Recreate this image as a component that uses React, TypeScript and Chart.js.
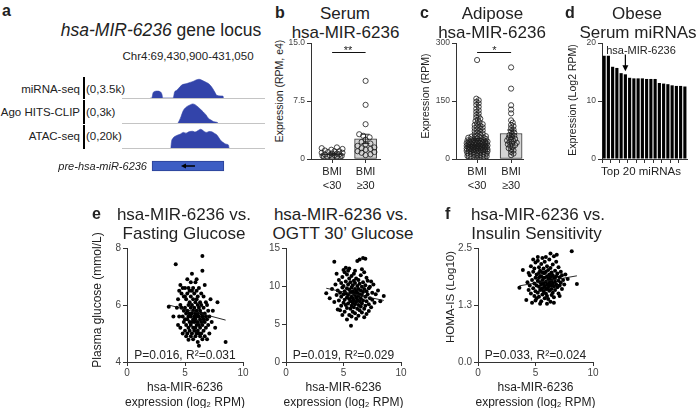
import React, { useEffect, useRef } from 'react';
import { Chart, registerables } from 'chart.js';

Chart.register(...registerables);

const FONT = '"Liberation Sans", Arial, Helvetica, sans-serif';
const INK = '#222';
const AXIS = '#333';
const TICK = '#444';
const PEAK = '#3344aa';
const GENE = '#3d5ec4';

// ---------------- Panel a: genome tracks (bp offset from 69,430,900) ----------------
const TRACK_MIN = 4;
const TRACK_MAX = 150;
const trackLabels = ['miRNA-seq', 'Ago HITS-CLIP', 'ATAC-seq'];
const trackRanges = ['(0,3.5k)', '(0,3k)', '(0,20k)'];
const trackMax = [3500, 3000, 20000];
const mirnaPos = [33, 34.4, 35.7, 37.5, 40, 43, 44.8, 45.6, 56.2, 57.7, 59.2, 61.2, 65, 70.1, 73.5, 76.5, 79.6, 82.7, 85.7, 88.8, 91.8, 93.9, 96.9, 99, 100.7, 104, 107.1, 107.7];
const mirnaVal = [0, 0, 850, 1100, 1150, 1050, 600, 0, 0, 1000, 1200, 1500, 2150, 2400, 2600, 2750, 3000, 3120, 2950, 2700, 2450, 2150, 1500, 900, 450, 350, 320, 0];
const agoPos = [61.2, 62.8, 64.3, 66.6, 69.4, 71.7, 74, 76.2, 78.6, 81.9, 84.7, 87, 89.8, 92.1, 94.9, 97.2, 100.7, 102];
const agoVal = [0, 400, 900, 1700, 2150, 2350, 2500, 2600, 2500, 2150, 1800, 1500, 1100, 650, 400, 200, 100, 0];
const atacPos = [53.9, 54.6, 55.8, 59.9, 63.3, 66.6, 69.4, 72.4, 76.2, 78.6, 81.6, 84.2, 85.7, 87.8, 90.5, 92.9, 95.6, 98, 100.7, 103.1, 105.1, 107.4, 110.2, 112.6, 113.3];
const atacVal = [0, 6000, 8600, 11400, 12500, 14200, 13500, 14800, 15200, 14500, 15800, 17000, 16500, 15000, 14200, 15000, 14800, 13500, 12000, 9000, 6500, 5000, 3500, 2800, 0];
const geneSpan = [34.7, 108];

// ---------------- Panel b: serum ----------------
const bmiLabels = [['BMI', '<30'], ['BMI', '≥30']];
const serumLow = [1.5, 1.4, 1.3, 1.2, 1.1, 1.0, 1.0, 0.9, 0.8, 0.8, 0.7, 0.7, 0.6, 0.6, 0.5, 0.5, 0.4, 0.4, 0.3, 0.3, 0.2];
const serumHigh = [10.1, 7.0, 4.5, 3.2, 3.0, 2.8, 2.5, 2.2, 2.0, 1.9, 1.7, 1.5, 1.4, 1.3, 1.2, 1.0, 0.9, 0.8, 0.6, 0.5];
const serumMean = [0.65, 2.6];
const serumSem = [0.09, 0.6];
const serumTicks = [0, 7.5, 15];
const serumTickLabels = ['0', '7.5', '15.0'];
const serumSigY = 13.9;

// ---------------- Panel c: adipose ----------------
const adiposeLow = [
  256, 156, 152, 148, 144, 140, 135, 130, 126, 122, 118, 114, 110, 107, 104, 101, 98, 95, 92, 90,
  88, 86, 84, 82, 80, 78, 76, 74, 72, 70, 68, 66, 64, 62, 60, 59, 58, 57, 56, 55, 54, 53, 52, 51, 50, 49, 48, 47, 46, 45,
  44, 44, 43, 43, 42, 42, 41, 41, 40, 40, 39, 39, 38, 38, 37, 37, 36, 36, 35, 35, 34, 34, 33, 33, 32, 32, 31, 31, 30, 30,
  29, 29, 28, 28, 27, 27, 26, 26, 25, 25, 24, 24, 23, 23, 22, 22, 21, 21, 20, 20,
  19, 18, 17, 16, 15, 14, 13, 12, 11, 10, 9, 8, 7, 6, 5, 4, 3, 2,
];
const adiposeHigh = [237, 182, 139, 128, 118, 100, 94, 88, 85, 80, 76, 72, 68, 65, 62, 60, 57, 55, 52, 50, 48, 46, 44, 42, 40, 38, 36, 34, 31, 28, 25, 22, 18, 14, 10];
const adiposeMean = [50, 66];
const adiposeSem = [3, 9];
const adiposeTicks = [0, 150, 300];
const adiposeTickLabels = ['0', '150', '300'];
const adiposeSigY = 277;

// ---------------- Panel d: top 20 serum miRNAs ----------------
const topMirnaNames = Array.from({ length: 20 }, (_, i) => `miR ${i + 1}`);
const topMirnaVals = [17.8, 17.8, 15.9, 15.7, 14.8, 14.6, 14.0, 13.9, 13.9, 13.9, 13.8, 13.8, 13.8, 13.1, 13.0, 12.9, 12.7, 12.6, 12.6, 12.5];
const topTicks = [0, 10, 20];
const arrowIndex = 5;
const arrowFrom = 18;

// ---------------- Panels e/f: scatter ----------------
const xTicks = [0, 5, 10];
const fastingTicks = [4, 6, 8];
const ogttTicks = [0, 5, 10, 15];
const homaTicks = [0, 1.25, 2.5];
const homaTickLabels = ['0.0', '1.3', '2.5'];

const fastingPts = [
  [3.6, 5.94], [4.2, 7.43], [4.3, 5.9], [4.4, 6.2], [4.5, 5.6], [4.5, 6.5], [4.6, 5.2], [4.6, 6.0], [4.7, 5.9], [4.7, 6.4],
  [4.8, 5.0], [4.8, 5.6], [4.8, 6.6], [4.9, 5.4], [4.9, 5.8], [4.9, 6.3], [5.0, 5.1], [5.0, 5.5], [5.0, 5.9], [5.0, 6.6],
  [5.1, 4.9], [5.1, 5.3], [5.1, 5.7], [5.1, 6.2], [5.2, 5.0], [5.2, 5.5], [5.2, 5.8], [5.2, 6.4], [5.2, 6.9], [5.3, 4.78],
  [5.3, 5.2], [5.3, 5.6], [5.3, 6.0], [5.3, 6.6], [5.4, 5.1], [5.4, 5.4], [5.4, 5.7], [5.4, 6.1], [5.4, 6.5], [5.5, 4.9],
  [5.5, 5.3], [5.5, 5.6], [5.5, 5.9], [5.5, 6.3], [5.5, 6.8], [5.6, 5.0], [5.6, 5.4], [5.6, 5.7], [5.6, 6.0], [5.6, 7.1],
  [5.7, 4.8], [5.7, 5.2], [5.7, 5.5], [5.7, 5.8], [5.7, 6.2], [5.7, 6.6], [5.8, 5.1], [5.8, 5.4], [5.8, 5.6], [5.8, 5.9],
  [5.8, 6.4], [5.9, 4.9], [5.9, 5.2], [5.9, 5.5], [5.9, 5.7], [5.9, 6.1], [5.9, 6.8], [6.0, 5.0], [6.0, 5.3], [6.0, 5.6],
  [6.0, 5.8], [6.0, 6.2], [6.0, 6.5], [6.1, 4.7], [6.1, 5.1], [6.1, 5.4], [6.1, 5.7], [6.1, 6.0], [6.1, 6.3], [6.2, 4.57],
  [6.2, 5.0], [6.2, 5.3], [6.2, 5.6], [6.2, 5.9], [6.2, 6.6], [6.3, 4.9], [6.3, 5.2], [6.3, 5.5], [6.3, 5.8], [6.3, 6.1],
  [6.4, 5.0], [6.4, 5.4], [6.4, 5.7], [6.4, 6.0], [6.4, 6.4], [6.5, 4.8], [6.5, 5.3], [6.5, 5.6], [6.5, 7.2], [6.5, 7.72],
  [6.6, 5.1], [6.6, 5.5], [6.6, 5.9], [6.6, 6.3], [6.7, 4.9], [6.7, 5.4], [6.7, 5.7], [6.7, 6.7], [6.8, 5.2], [6.8, 5.6],
  [6.8, 6.1], [6.9, 4.8], [6.9, 5.5], [6.9, 6.0], [7.0, 5.3], [7.0, 5.8], [7.1, 5.0], [7.1, 5.6], [7.2, 6.2], [7.3, 5.4],
  [7.4, 5.8], [7.6, 5.2], [7.8, 6.1], [8.5, 4.7], [4.0, 5.6], [4.4, 5.3], [4.6, 6.7], [5.0, 6.3], [5.6, 6.5], [6.0, 6.9],
];
const fastingFitX = [3.6, 8.5];
const fastingFitY = [6.0, 5.47];

const ogttPts = [
  [3.5, 9.05], [3.8, 8.4], [4.0, 9.6], [4.2, 13.2], [4.2, 7.9], [4.3, 10.2], [4.4, 8.8], [4.5, 6.9], [4.5, 9.4], [4.6, 10.8],
  [4.6, 8.1], [4.7, 9.1], [4.7, 6.8], [4.8, 10.4], [4.8, 8.6], [4.8, 7.4], [4.9, 9.8], [4.9, 11.2], [5.0, 12.1], [5.0, 8.9],
  [5.0, 7.8], [5.0, 10.0], [5.1, 11.8], [5.1, 9.3], [5.1, 8.2], [5.1, 6.6], [5.2, 10.6], [5.2, 9.0], [5.2, 7.5], [5.3, 11.5],
  [5.3, 9.7], [5.3, 8.5], [5.3, 7.1], [5.4, 12.0], [5.4, 10.2], [5.4, 8.8], [5.4, 7.7], [5.5, 11.0], [5.5, 9.5], [5.5, 8.3],
  [5.5, 6.2], [5.6, 10.5], [5.6, 9.1], [5.6, 8.0], [5.6, 7.0], [5.65, 4.76], [5.7, 11.3], [5.7, 9.8], [5.7, 8.6], [5.7, 7.4],
  [5.7, 6.0], [5.8, 10.1], [5.8, 9.3], [5.8, 8.4], [5.8, 7.8], [5.8, 6.6], [5.9, 11.6], [5.9, 10.7], [5.9, 9.0], [5.9, 8.1],
  [5.9, 7.2], [6.0, 10.4], [6.0, 9.6], [6.0, 8.8], [6.0, 7.6], [6.0, 6.4], [6.1, 11.0], [6.1, 9.3], [6.1, 8.5], [6.1, 7.9],
  [6.1, 5.7], [6.2, 13.3], [6.2, 10.0], [6.2, 9.1], [6.2, 8.2], [6.2, 7.0], [6.3, 10.8], [6.3, 9.6], [6.3, 8.7], [6.3, 7.5],
  [6.3, 6.1], [6.4, 13.5], [6.4, 10.3], [6.4, 8.9], [6.4, 8.0], [6.4, 6.8], [6.5, 11.4], [6.5, 9.4], [6.5, 8.4], [6.5, 7.3],
  [6.6, 9.9], [6.6, 8.8], [6.6, 7.7], [6.6, 6.5], [6.7, 13.7], [6.7, 10.5], [6.7, 9.2], [6.7, 8.1], [6.8, 11.8], [6.8, 9.6],
  [6.8, 7.0], [6.9, 13.6], [6.9, 10.1], [6.9, 8.6], [6.9, 7.4], [7.0, 9.3], [7.0, 8.0], [7.0, 6.3], [7.1, 10.7], [7.1, 8.9],
  [7.2, 9.7], [7.2, 7.6], [7.2, 6.7], [7.3, 8.4], [7.3, 9.9], [7.4, 7.2], [7.5, 9.1], [7.5, 8.2], [7.6, 10.2], [7.7, 7.8],
  [7.8, 8.9], [8.0, 9.4], [8.2, 8.0], [8.5, 8.7], [4.4, 11.6], [4.9, 6.2], [5.2, 12.4], [5.5, 12.3], [6.0, 12.0], [6.6, 12.2],
  [7.0, 11.1], [7.4, 10.6], [5.3, 5.6], [6.8, 5.9],
];
const ogttFitX = [3.5, 8.5];
const ogttFitY = [9.7, 8.1];

const homaPts = [
  [3.6, 1.63], [3.9, 2.02], [4.2, 1.36], [4.3, 1.75], [4.4, 1.58], [4.5, 1.90], [4.5, 1.68], [4.6, 2.10], [4.6, 1.50], [4.7, 1.30],
  [4.7, 1.80], [4.8, 1.62], [4.8, 1.98], [4.9, 1.72], [4.9, 1.45], [4.9, 2.05], [5.0, 1.85], [5.0, 1.55], [5.0, 2.18], [5.1, 1.68],
  [5.1, 1.40], [5.1, 1.92], [5.2, 1.78], [5.2, 2.22], [5.2, 1.52], [5.3, 1.65], [5.3, 1.95], [5.3, 1.43], [5.3, 2.08], [5.4, 1.75],
  [5.4, 1.58], [5.4, 2.00], [5.5, 1.33], [5.5, 1.70], [5.5, 1.88], [5.5, 2.15], [5.6, 1.62], [5.6, 1.80], [5.6, 1.48], [5.6, 2.28],
  [5.7, 1.72], [5.7, 1.95], [5.7, 1.55], [5.7, 2.05], [5.8, 1.66], [5.8, 1.85], [5.8, 1.40], [5.8, 2.20], [5.9, 1.76], [5.9, 1.60],
  [5.9, 1.98], [5.9, 1.50], [6.0, 1.70], [6.0, 1.88], [6.0, 2.10], [6.0, 1.45], [6.1, 1.63], [6.1, 1.82], [6.1, 2.02], [6.1, 1.38],
  [6.2, 1.74], [6.2, 1.92], [6.2, 1.56], [6.2, 2.25], [6.3, 1.32], [6.3, 1.68], [6.3, 1.86], [6.3, 2.06], [6.4, 1.60], [6.4, 1.78],
  [6.4, 1.96], [6.4, 1.47], [6.5, 1.72], [6.5, 1.90], [6.5, 2.14], [6.5, 1.52], [6.6, 2.32], [6.6, 1.66], [6.6, 1.84], [6.6, 1.42],
  [6.7, 1.76], [6.7, 2.00], [6.7, 1.58], [6.8, 1.70], [6.8, 1.88], [6.8, 2.20], [6.85, 2.35], [6.9, 1.64], [6.9, 1.94], [7.0, 1.78],
  [7.0, 1.50], [7.0, 2.08], [7.1, 1.68], [7.1, 1.86], [7.2, 1.74], [7.2, 1.98], [7.3, 1.60], [7.3, 1.90], [7.4, 1.80], [7.5, 1.70],
  [7.6, 1.92], [7.8, 1.82], [8.15, 2.43], [8.6, 1.71], [4.8, 2.25], [5.2, 2.30], [5.9, 2.30], [6.3, 2.38], [4.4, 1.95], [5.0, 1.35],
  [5.4, 1.28], [6.0, 1.28], [6.6, 1.30], [7.1, 1.45], [5.3, 1.85], [5.7, 1.85], [6.2, 1.82], [5.5, 1.60], [6.1, 1.70], [5.8, 1.95],
  [6.4, 1.70], [5.6, 1.97], [6.0, 1.60], [5.4, 1.88], [6.7, 1.85],
];
const homaFitX = [3.6, 8.6];
const homaFitY = [1.67, 1.89];

// ---------------- helpers ----------------
function swarmOffsets(vals: number[], pxPerY: number, pxPerX: number, diam: number, maxPx: number) {
  const order = vals.map((_, i) => i).sort((a, b) => vals[a] - vals[b]);
  const placed: { ox: number; py: number }[] = [];
  const out = new Array(vals.length).fill(0);
  for (const i of order) {
    const py = vals[i] * pxPerY;
    let best = 0;
    let bestDist = -1;
    for (let k = 0; k < 400; k++) {
      const cand = (k % 2 === 1 ? 1 : -1) * Math.ceil(k / 2) * 0.8;
      if (Math.abs(cand) > maxPx) break;
      let minD = Infinity;
      for (const p of placed) {
        const d = Math.hypot(p.ox - cand, p.py - py);
        if (d < minD) minD = d;
      }
      if (minD >= diam) { best = cand; bestDist = minD; break; }
      if (minD > bestDist) { bestDist = minD; best = cand; }
    }
    placed.push({ ox: best, py });
    out[i] = best / pxPerX;
  }
  return out;
}

const base = (pad: any) => ({
  responsive: false,
  maintainAspectRatio: false,
  animation: false,
  events: [],
  layout: { padding: pad },
  plugins: { legend: { display: false }, tooltip: { enabled: false }, title: { display: false } },
});

function yAxis(min: number, max: number, ticks: number[], width: number, size: number, labels?: string[]) {
  return {
    type: 'linear',
    position: 'left',
    min,
    max,
    afterBuildTicks: (s: any) => { s.ticks = ticks.map((v) => ({ value: v })); },
    afterFit: (s: any) => { s.width = width; },
    ticks: {
      font: { family: FONT, size },
      color: TICK,
      padding: 2,
      callback: (v: number, i: number) => (labels ? labels[i] : String(v)),
    },
    grid: { display: true, drawOnChartArea: false, drawTicks: true, tickLength: 4, color: AXIS, lineWidth: 1 },
    border: { display: true, color: AXIS, width: 1 },
  };
}

function xAxis(min: number, max: number, ticks: number[], height: number, size: number, labels?: any[], lh = 1.2, pad = 1, color = TICK) {
  return {
    type: 'linear',
    position: 'bottom',
    min,
    max,
    offset: false,
    afterBuildTicks: (s: any) => { s.ticks = ticks.map((v) => ({ value: v })); },
    afterFit: (s: any) => { s.height = height; },
    ticks: {
      font: { family: FONT, size, lineHeight: lh },
      color,
      padding: pad,
      maxRotation: 0,
      callback: (v: number, i: number) => (labels ? labels[i] : String(v)),
    },
    grid: { display: true, offset: false, drawOnChartArea: false, drawTicks: true, tickLength: 4, color: AXIS, lineWidth: 1 },
    border: { display: true, color: AXIS, width: 1 },
  };
}

// ---------------- chart configs ----------------
function trackCfg(pos: number[], vals: number[], max: number, pad: any) {
  return {
    type: 'line',
    data: {
      datasets: [{
        data: pos.map((x, i) => ({ x, y: vals[i] })),
        fill: 'origin',
        backgroundColor: PEAK,
        borderColor: PEAK,
        borderWidth: 0.6,
        pointRadius: 0,
        cubicInterpolationMode: 'monotone',
      }],
    },
    options: {
      ...base(pad),
      scales: {
        x: {
          type: 'linear', min: TRACK_MIN, max: TRACK_MAX,
          afterFit: (s: any) => { s.height = 0; },
          ticks: { display: false }, grid: { display: false },
          border: { display: true, color: '#c4c4c4', width: 1 },
        },
        y: { display: false, min: 0, max },
      },
    },
  };
}

function geneCfg() {
  return {
    type: 'bar',
    data: {
      labels: ['pre-hsa-miR-6236'],
      datasets: [{ data: [geneSpan], backgroundColor: GENE, borderColor: '#2b4296', borderWidth: 1, borderSkipped: false, barThickness: 10 }],
    },
    options: {
      ...base(0),
      indexAxis: 'y',
      scales: { x: { type: 'linear', display: false, min: TRACK_MIN, max: TRACK_MAX }, y: { display: false } },
    },
    plugins: [{
      id: 'geneArrow',
      afterDatasetsDraw(chart: any) {
        const { ctx } = chart;
        const x = chart.scales.x;
        const el = chart.getDatasetMeta(0).data[0];
        const cx = x.getPixelForValue((geneSpan[0] + geneSpan[1]) / 2);
        const cy = el.y;
        ctx.save();
        ctx.strokeStyle = '#000';
        ctx.fillStyle = '#000';
        ctx.lineWidth = 1.5;
        ctx.beginPath(); ctx.moveTo(cx + 7, cy); ctx.lineTo(cx - 3, cy); ctx.stroke();
        ctx.beginPath(); ctx.moveTo(cx - 7, cy); ctx.lineTo(cx - 2, cy - 2.5); ctx.lineTo(cx - 2, cy + 2.5); ctx.closePath(); ctx.fill();
        ctx.restore();
      },
    }],
  };
}

function stripCfg(opts: {
  low: number[]; high: number[]; mean: number[]; sem: number[]; max: number; ticks: number[]; tickLabels: string[];
  sigY: number; xmin: number; xmax: number; pxPerY: number; pxPerX: number; diam: number; spread: number; yWidth: number;
}) {
  const offLow = swarmOffsets(opts.low, opts.pxPerY, opts.pxPerX, opts.diam, opts.spread);
  const offHigh = swarmOffsets(opts.high, opts.pxPerY, opts.pxPerX, opts.diam, opts.spread);
  const pts = [
    ...opts.low.map((v, i) => ({ x: offLow[i], y: v })),
    ...opts.high.map((v, i) => ({ x: 1 + offHigh[i], y: v })),
  ];
  return {
    type: 'scatter',
    data: {
      datasets: [
        {
          type: 'bar',
          data: opts.mean.map((m, i) => ({ x: i, y: m })),
          backgroundColor: '#d4d4d4',
          borderColor: AXIS,
          borderWidth: 1,
          borderSkipped: false,
          barThickness: 22,
          grouped: false,
          order: 2,
        },
        {
          type: 'scatter',
          data: pts,
          pointRadius: 2.6,
          pointBackgroundColor: 'rgba(255,255,255,0)',
          pointBorderColor: '#1a1a1a',
          pointBorderWidth: 0.8,
          order: 1,
        },
      ],
    },
    options: {
      ...base({ top: 8, right: 12, left: 0, bottom: 0 }),
      scales: {
        x: xAxis(opts.xmin, opts.xmax, [0, 1], 36, 11, bmiLabels, 1.3, 1.5, INK),
        y: yAxis(0, opts.max, opts.ticks, opts.yWidth, 8.5, opts.tickLabels),
      },
    },
    plugins: [{
      id: 'barExtras',
      afterDatasetDraw(chart: any, args: any) {
        if (args.index !== 0) return;
        const { ctx } = chart;
        const { x, y } = chart.scales;
        ctx.save();
        ctx.strokeStyle = AXIS;
        ctx.lineWidth = 1;
        opts.mean.forEach((m: number, i: number) => {
          const px = x.getPixelForValue(i);
          const top = y.getPixelForValue(m + opts.sem[i]);
          const bot = y.getPixelForValue(Math.max(0, m - opts.sem[i]));
          ctx.beginPath();
          ctx.moveTo(px, bot); ctx.lineTo(px, top);
          ctx.moveTo(px - 4, top); ctx.lineTo(px + 4, top);
          ctx.moveTo(px - 4, bot); ctx.lineTo(px + 4, bot);
          ctx.stroke();
        });
        ctx.restore();
      },
      afterDraw(chart: any) {
        const { ctx } = chart;
        const { x, y } = chart.scales;
        const py = Math.round(y.getPixelForValue(opts.sigY)) + 0.5;
        ctx.save();
        ctx.strokeStyle = '#111';
        ctx.lineWidth = 1;
        ctx.beginPath();
        ctx.moveTo(x.getPixelForValue(0), py);
        ctx.lineTo(x.getPixelForValue(1), py);
        ctx.stroke();
        ctx.restore();
      },
    }],
  };
}

function topCfg() {
  return {
    type: 'bar',
    data: {
      labels: topMirnaNames,
      datasets: [{ data: topMirnaVals, backgroundColor: '#000', borderWidth: 0, barPercentage: 0.74, categoryPercentage: 1 }],
    },
    options: {
      ...base({ top: 8, right: 8, left: 0, bottom: 0 }),
      scales: {
        x: {
          type: 'category',
          offset: true,
          afterFit: (s: any) => { s.height = 36; },
          ticks: { display: false },
          grid: {
            display: true, offset: true, drawOnChartArea: false, drawTicks: true, tickLength: 4, lineWidth: 1,
            color: (c: any) => (c.index % 2 === 0 ? AXIS : 'rgba(0,0,0,0)'),
          },
          border: { display: true, color: AXIS, width: 1 },
        },
        y: yAxis(0, 20, topTicks, 22, 8.5),
      },
    },
    plugins: [{
      id: 'arrow',
      afterDatasetsDraw(chart: any) {
        const { ctx } = chart;
        const { x, y } = chart.scales;
        const px = x.getPixelForValue(arrowIndex);
        const y0 = y.getPixelForValue(arrowFrom);
        const y1 = y.getPixelForValue(topMirnaVals[arrowIndex]) - 3;
        ctx.save();
        ctx.strokeStyle = '#000';
        ctx.fillStyle = '#000';
        ctx.lineWidth = 1.2;
        ctx.beginPath(); ctx.moveTo(px, y0); ctx.lineTo(px, y1 - 4); ctx.stroke();
        ctx.beginPath(); ctx.moveTo(px, y1); ctx.lineTo(px - 3, y1 - 6); ctx.lineTo(px + 3, y1 - 6); ctx.closePath(); ctx.fill();
        ctx.restore();
      },
    }],
  };
}

function scatterCfg(pts: number[][], fitX: number[], fitY: number[], ymin: number, ymax: number, yt: number[], yWidth: number, yLabels?: string[]) {
  return {
    type: 'scatter',
    data: {
      datasets: [
        {
          type: 'line',
          data: fitX.map((x, i) => ({ x, y: fitY[i] })),
          borderColor: '#111',
          borderWidth: 0.9,
          pointRadius: 0,
          fill: false,
          order: 0,
        },
        {
          type: 'scatter',
          data: pts.map(([x, y]) => ({ x, y })),
          pointRadius: 2,
          pointBackgroundColor: '#000',
          pointBorderWidth: 0,
          order: 1,
        },
      ],
    },
    options: {
      ...base({ top: 8, right: 12, left: 0, bottom: 0 }),
      scales: {
        x: xAxis(0, 10, xTicks, 23, 10),
        y: yAxis(ymin, ymax, yt, yWidth, 10, yLabels),
      },
    },
  };
}

// ---------------- components ----------------
function ChartCanvas({ l, t, w, h, make }: { l: number; t: number; w: number; h: number; make: () => any }) {
  const ref = useRef<HTMLCanvasElement | null>(null);
  useEffect(() => {
    if (!ref.current) return;
    const chart = new Chart(ref.current, make());
    return () => chart.destroy();
  }, []);
  return <canvas ref={ref} width={w} height={h} style={{ position: 'absolute', left: l, top: t, width: w, height: h }} />;
}

function T({ x, y, s, children, a = 'left', b = false, i = false, rot = false, c = INK }: any) {
  const style: any = {
    position: 'absolute',
    fontFamily: FONT,
    fontSize: s,
    lineHeight: `${s}px`,
    whiteSpace: 'nowrap',
    color: c,
    fontWeight: b ? 700 : 400,
    fontStyle: i ? 'italic' : 'normal',
  };
  if (rot) {
    style.left = x;
    style.top = y;
    style.transform = 'translate(-50%, -50%) rotate(-90deg)';
  } else {
    style.left = x;
    style.top = y - 0.49 * s;
    if (a === 'center') style.transform = 'translateX(-50%)';
    if (a === 'right') style.transform = 'translateX(-100%)';
  }
  return <div style={style}>{children}</div>;
}

function VBar({ x, t, b }: { x: number; t: number; b: number }) {
  return <div style={{ position: 'absolute', left: x, top: t, width: 2, height: b - t, background: '#000' }} />;
}

export default function App() {
  const trackY = [90, 113, 137];
  const sep = [[77, 98.5], [100, 123.5], [125, 148.5]];
  return (
    <div style={{ position: 'fixed', left: 0, top: 0, width: 700, height: 408, background: '#fff', overflow: 'hidden' }}>
      {/* Panel a */}
      <T x={2} y={11} s={16} b>a</T>
      <T x={161} y={31} s={17.5} a="center"><span style={{ fontStyle: 'italic' }}>hsa-MIR-6236</span> gene locus</T>
      <T x={188} y={57} s={11.5} a="center">Chr4:69,430,900-431,050</T>
      {trackLabels.map((lab, k) => (
        <React.Fragment key={lab}>
          <T x={80} y={trackY[k]} s={11.5} a="right">{lab}</T>
          <T x={86} y={trackY[k]} s={11.5}>{trackRanges[k]}</T>
          <VBar x={82.5} t={sep[k][0]} b={sep[k][1]} />
        </React.Fragment>
      ))}
      <ChartCanvas l={122} t={76} w={143} h={24} make={() => trackCfg(mirnaPos, mirnaVal, trackMax[0], { top: 1, bottom: 2, left: 0, right: 0 })} />
      <ChartCanvas l={122} t={99} w={143} h={26} make={() => trackCfg(agoPos, agoVal, trackMax[1], { top: 2, bottom: 2, left: 0, right: 0 })} />
      <ChartCanvas l={122} t={124} w={143} h={26} make={() => trackCfg(atacPos, atacVal, trackMax[2], { top: 2, bottom: 2, left: 0, right: 0 })} />
      <ChartCanvas l={122} t={159} w={143} h={14} make={geneCfg} />
      <T x={147} y={166} s={11} a="right" i>pre-hsa-miR-6236</T>

      {/* Panel b */}
      <T x={275} y={13} s={16} b>b</T>
      <T x={345} y={13} s={17} a="center">Serum</T>
      <T x={345.5} y={32} s={17} a="center">hsa-MIR-6236</T>
      <T x={279} y={91} s={10.5} rot>Expression (RPM, e4)</T>
      <ChartCanvas l={285} t={35} w={107} h={160} make={() => stripCfg({
        low: serumLow, high: serumHigh, mean: serumMean, sem: serumSem, max: 15, ticks: serumTicks, tickLabels: serumTickLabels,
        sigY: serumSigY, xmin: -0.63, xmax: 1.43, pxPerY: 116 / 15, pxPerX: 33.5, diam: 4.2, spread: 11, yWidth: 26,
      })} />
      <T x={348} y={50} s={11} a="center">**</T>

      {/* Panel c */}
      <T x={420} y={13} s={16} b>c</T>
      <T x={492.5} y={13} s={17} a="center">Adipose</T>
      <T x={492} y={32} s={17} a="center">hsa-MIR-6236</T>
      <T x={424.5} y={96} s={10.5} rot>Expression (RPM)</T>
      <ChartCanvas l={430} t={35} w={105} h={160} make={() => stripCfg({
        low: adiposeLow, high: adiposeHigh, mean: adiposeMean, sem: adiposeSem, max: 300, ticks: adiposeTicks, tickLabels: adiposeTickLabels,
        sigY: adiposeSigY, xmin: -0.62, xmax: 1.35, pxPerY: 116 / 300, pxPerX: 34, diam: 2.6, spread: 11, yWidth: 26,
      })} />
      <T x={494.5} y={50} s={11} a="center">*</T>

      {/* Panel d */}
      <T x={565} y={13} s={16} b>d</T>
      <T x={637} y={13} s={17} a="center">Obese</T>
      <T x={638} y={32} s={17} a="center">Serum miRNAs</T>
      <T x={572} y={100} s={10.5} rot>Expression (Log2 RPM)</T>
      <ChartCanvas l={580} t={35} w={115} h={160} make={topCfg} />
      <T x={641} y={50} s={11} a="center">hsa-MIR-6236</T>
      <T x={641} y={172} s={11.5} a="center">Top 20 miRNAs</T>

      {/* Panel e */}
      <T x={92} y={214} s={16} b>e</T>
      <T x={184} y={214} s={17} a="center">hsa-MIR-6236 vs.</T>
      <T x={184} y={233.5} s={17} a="center">Fasting Glucose</T>
      <T x={97} y={300} s={12} rot>Plasma glucose (mmol/L)</T>
      <ChartCanvas l={100} t={240} w={155} h={145} make={() => scatterCfg(fastingPts, fastingFitX, fastingFitY, 4, 8, fastingTicks, 27)} />
      <T x={185} y={355} s={12} a="center">P=0.016, R²=0.031</T>
      <T x={185} y={386.5} s={12} a="center">hsa-MIR-6236</T>
      <T x={185} y={401.5} s={12} a="center">expression (log₂ RPM)</T>

      <T x={341} y={214} s={17} a="center">hsa-MIR-6236 vs.</T>
      <T x={343} y={233.5} s={17} a="center">OGTT 30’ Glucose</T>
      <ChartCanvas l={258} t={240} w={155} h={145} make={() => scatterCfg(ogttPts, ogttFitX, ogttFitY, 0, 15, ogttTicks, 28)} />
      <T x={343.5} y={355} s={12} a="center">P=0.019, R²=0.029</T>
      <T x={343.5} y={386.5} s={12} a="center">hsa-MIR-6236</T>
      <T x={343.5} y={401.5} s={12} a="center">expression (log₂ RPM)</T>

      {/* Panel f */}
      <T x={445} y={214} s={16} b>f</T>
      <T x={538} y={214} s={17} a="center">hsa-MIR-6236 vs.</T>
      <T x={536.5} y={233.5} s={17} a="center">Insulin Sensitivity</T>
      <T x={451} y={297} s={11.5} rot>HOMA-IS (Log10)</T>
      <ChartCanvas l={450} t={240} w={155} h={145} make={() => scatterCfg(homaPts, homaFitX, homaFitY, 0, 2.5, homaTicks, 28, homaTickLabels)} />
      <T x={535.5} y={355} s={12} a="center">P=0.033, R²=0.024</T>
      <T x={535.5} y={386.5} s={12} a="center">hsa-MIR-6236</T>
      <T x={535.5} y={401.5} s={12} a="center">expression (log₂ RPM)</T>
    </div>
  );
}
